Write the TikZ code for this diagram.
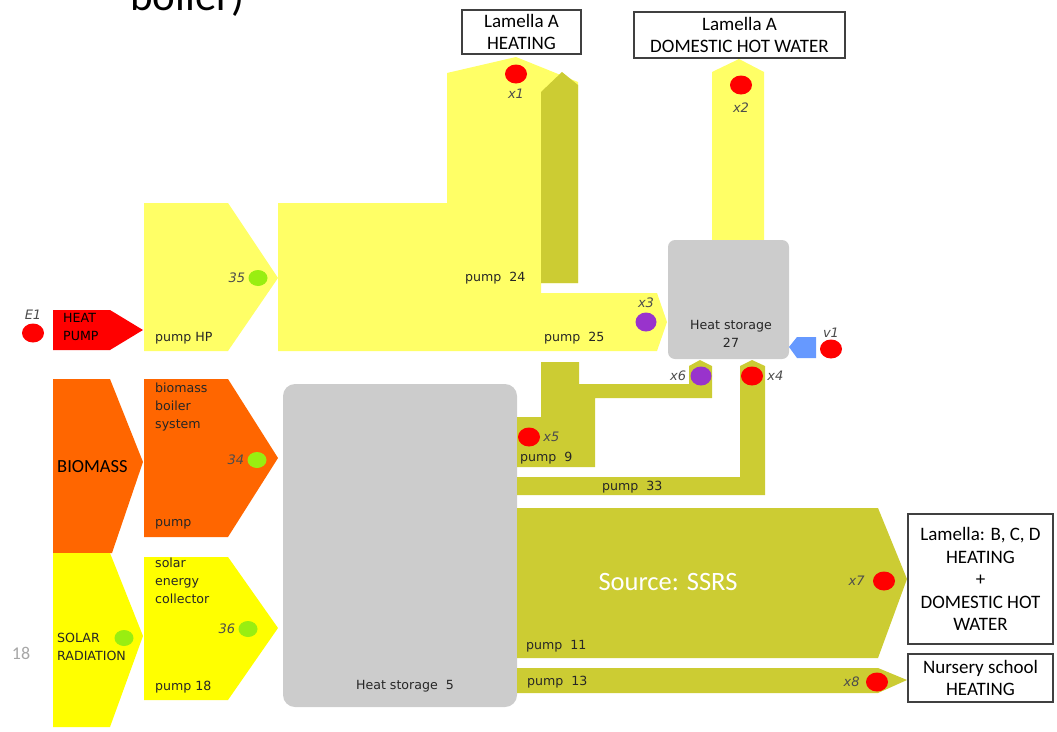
\documentclass[tikz,border=0pt]{standalone}
\usepackage{fontspec}
\setmainfont{Carlito}
\newfontfamily\lblfont{DejaVu Sans}
\usetikzlibrary{positioning, shapes.geometric}
\definecolor{lyellow}{HTML}{FFFF66}
\definecolor{syellow}{HTML}{FFFF00}
\definecolor{pipeolive}{HTML}{CCCC33}
\definecolor{bioorange}{HTML}{FF6600}
\definecolor{storegray}{HTML}{CCCCCC}
\definecolor{dotgreen}{HTML}{99EE11}
\definecolor{dotpurple}{HTML}{9933CC}
\definecolor{valveblue}{HTML}{6699FF}
\tikzset{x=1pt, y=-1pt,
every node/.style={inner sep=0pt},
lbl/.style={font=\lblfont\fontsize{12.6}{18}\selectfont, text=black!85},
tag/.style={font=\lblfont\itshape\fontsize{13}{14}\selectfont, text=black!70},
reddot/.style={ellipse, fill=red, minimum width=22pt, minimum height=19pt},
greendot/.style={ellipse, fill=dotgreen, minimum width=19pt, minimum height=16pt},
purpledot/.style={ellipse, fill=dotpurple, minimum width=21pt, minimum height=19pt},
outbox/.style={draw=black!75, line width=1.3pt, fill=white, align=center,
  font=\fontsize{19}{22.5}\selectfont},
}

\begin{document}
\begin{tikzpicture}
\clip (0,0) rectangle (1057,731);
\node[anchor=base west, font=\fontsize{43}{43}\selectfont] (title) at (130,10) {boiler)};

% sources
\fill[red] (53,310) -- (110,310) -- (143,330) -- (110,350) -- (53,350) -- cycle;
\fill[bioorange] (53,379) -- (110,379) -- (143,462) -- (112,553) -- (53,553) -- cycle;
\fill[syellow] (53,553) -- (110,553) -- (143,636) -- (110,727) -- (53,727) -- cycle;
\fill[lyellow] (144,203) -- (228,203) -- (278,278) -- (228,351) -- (144,351) -- cycle;
\fill[bioorange] (144,379) -- (228,379) -- (278,458) -- (228,537) -- (144,537) -- cycle;
\fill[syellow] (144,557) -- (228,557) -- (278,628) -- (228,700) -- (144,700) -- cycle;

% heat pump branch
\fill[lyellow] (278,203) -- (447,203) -- (447,73) -- (516,57) -- (578,82) -- (578,283)
  -- (541,283) -- (541,293) -- (657,293) -- (667,322) -- (657,351) -- (278,351) -- cycle;
\fill[pipeolive] (541,283) -- (541,92) -- (562,72) -- (578,85) -- (578,283) -- cycle;
\fill[lyellow] (712,241) -- (712,72) -- (739,59) -- (764,72) -- (764,241) -- cycle;

% storages
\fill[storegray, rounded corners=7pt] (668,240) rectangle (789,359);
\fill[storegray, rounded corners=12pt] (283,384) rectangle (517,707);

% return pipes
\fill[pipeolive] (541,362) -- (579,362) -- (579,384) -- (689,384) -- (689,366) -- (700,360)
  -- (712,366) -- (712,398) -- (595,398) -- (595,467) -- (517,467) -- (517,417) -- (541,417) -- cycle;
\fill[pipeolive] (517,477) -- (740,477) -- (740,366) -- (752,360) -- (765,366) -- (765,495)
  -- (517,495) -- cycle;
\fill[pipeolive] (517,508) -- (878,508) -- (907,579) -- (878,658) -- (517,658) -- cycle;
\fill[pipeolive] (517,668) -- (878,668) -- (907,680) -- (878,693) -- (517,693) -- cycle;
\fill[valveblue] (789,347) -- (797,337) -- (816,337) -- (816,358) -- (797,358) -- cycle;

% consumers
\node[outbox, minimum width=119pt, minimum height=44pt] (lamAheat) at (521.5,32) {Lamella A\\HEATING};
\node[outbox, minimum width=211pt, minimum height=46pt] (lamAdhw) at (739.5,35) {Lamella A\\DOMESTIC HOT WATER};
\node[outbox, minimum width=145pt, minimum height=130pt] (lamBCD) at (980.5,579)
  {Lamella: B, C, D\\HEATING\\+\\DOMESTIC HOT\\WATER};
\node[outbox, minimum width=145pt, minimum height=48pt] (nursery) at (980.5,678) {Nursery school\\HEATING};

% meters
\node[reddot] (e1) at (33,333) {};
\node[tag, above=4pt of e1] {E1};
\node[reddot] (x1) at (516,74) {};
\node[tag, below=5pt of x1] {x1};
\node[reddot] (x2) at (741,85) {};
\node[tag, below=8pt of x2] {x2};
\node[purpledot] (x3) at (646,322) {};
\node[tag, above=4pt of x3] {x3};
\node[reddot] (x4) at (752,376) {};
\node[tag, right=4pt of x4] {x4};
\node[reddot] (x5) at (529,437) {};
\node[tag, right=3pt of x5] {x5};
\node[purpledot] (x6) at (701,376) {};
\node[tag, left=4pt of x6] {x6};
\node[reddot] (x7) at (884,581) {};
\node[tag, left=8pt of x7] {x7};
\node[reddot] (x8) at (877,682) {};
\node[tag, left=6pt of x8] {x8};
\node[reddot] (v1) at (831,349) {};
\node[tag, above=2pt of v1] {v1};
\node[greendot] (g35) at (258,278) {};
\node[tag, left=3pt of g35] {35};
\node[greendot] (g34) at (257,460) {};
\node[tag, left=3pt of g34] {34};
\node[greendot] (g36) at (248,629) {};
\node[tag, left=3pt of g36] {36};
\node[greendot] (gsun) at (124,638) {};

% texts
\node[lbl, anchor=north west, align=left, text=black] (hptxt) at (63,313) {HEAT\\PUMP};
\node[anchor=west, font=\fontsize{18.5}{20}\selectfont] (biotxt) at (57,467) {BIOMASS};
\node[lbl, anchor=north west, align=left] (soltxt) at (57,633) {SOLAR\\RADIATION};
\node[lbl, anchor=west] (php) at (155,338) {pump HP};
\node[lbl, anchor=north west, align=left] (boiler) at (155,383) {biomass\\boiler\\system};
\node[lbl, anchor=west] (pbio) at (155,524) {pump};
\node[lbl, anchor=north west, align=left] (collect) at (155,558) {solar\\energy\\collector};
\node[lbl, anchor=west] (p18) at (155,687) {pump 18};
\node[lbl, anchor=west] (p24) at (465,278) {pump\ \ 24};
\node[lbl, anchor=west] (p25) at (544,338) {pump\ \ 25};
\node[lbl, align=center] (hs27) at (731,334) {Heat storage\\27};
\node[lbl, anchor=west] (p9) at (520,458) {pump\ \ 9};
\node[lbl, anchor=west] (p33) at (602,487) {pump\ \ 33};
\node[lbl, anchor=west] (p11) at (526,646) {pump\ \ 11};
\node[lbl, anchor=west] (p13) at (527,682) {pump\ \ 13};
\node[lbl] (hs5) at (405,686) {Heat storage\ \ 5};
\node[text=white, font=\fontsize{26.5}{26.5}\selectfont] (src) at (668,582) {Source: SSRS};
\node[text=black!35, font=\fontsize{18}{18}\selectfont] (pgno) at (21,653) {18};
\end{tikzpicture}
\end{document}
